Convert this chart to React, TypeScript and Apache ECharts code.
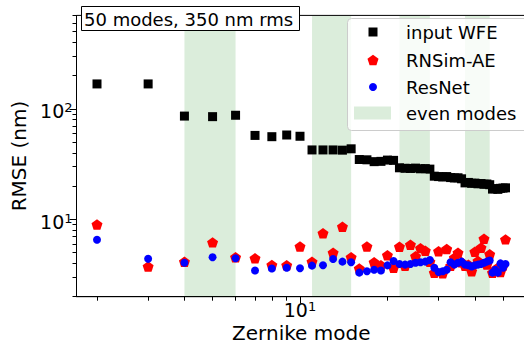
import React, { useEffect, useRef } from "react";
import * as echarts from "echarts";

// ---- data ----
const modes = [
  2, 3, 4, 5, 6, 7, 8, 9, 10, 11, 12, 13, 14, 15, 16, 17, 18, 19, 20, 21, 22, 23, 24, 25, 26,
  27, 28, 29, 30, 31, 32, 33, 34, 35, 36, 37, 38, 39, 40, 41, 42, 43, 44, 45, 46, 47, 48, 49, 50, 51,
];
const inputWFE = [
  168, 168, 86, 85, 87.5, 57.5, 56, 58, 56.5, 42.5, 42.5, 42.5, 42.3, 43.5, 34.8, 34.6, 33.3,
  33.5, 34.4, 34.2, 29.3, 29.0, 28.9, 29.1, 28.7, 28.8, 28.5, 24.6, 24.4, 24.2, 24.4, 23.9, 23.7,
  23.8, 23.3, 21.4, 21.6, 21.2, 21.3, 21.0, 21.1, 20.8, 20.9, 20.6, 18.8, 19.0, 18.7, 19.1, 19.2, 19.3,
];
const rnsimAE = [
  9.0, 3.75, 4.15, 6.2, 4.55, 4.45, 3.87, 3.85, 5.7, 4.15, 7.5, 5.0, 8.6, 4.55, 3.6, 5.7, 4.1,
  3.85, 4.75, 3.65, 5.65, 3.8, 5.9, 4.65, 5.5, 5.2, 4.15, 3.3, 5.15, 3.25, 5.4, 3.8, 4.5, 5.0,
  4.1, 3.8, 3.9, 3.4, 5.1, 4.2, 5.55, 6.7, 3.9, 4.85, 3.3, 3.5, 3.65, 3.35, 3.8, 6.6,
];
const resNet = [
  6.55, 4.4, 4.05, 4.55, 4.45, 3.45, 3.6, 3.65, 3.62, 3.82, 3.85, 4.38, 4.15, 4.1, 3.3, 3.4, 3.5,
  3.45, 3.84, 4.2, 3.95, 3.9, 3.95, 4.05, 4.1, 4.15, 4.3, 3.65, 3.35, 3.4, 3.5, 4.1, 3.9, 4.05,
  4.15, 3.9, 3.85, 3.75, 3.85, 3.9, 3.95, 4.05, 4.15, 4.25, 3.3, 3.5, 3.3, 4.0, 3.65, 3.95,
];
const evenModeBands = [
  [4, 6],
  [11, 15],
  [22, 28],
  [37, 45],
];
const xLimits = [1.7, 60];
const yLimits = [2, 700];
const xMajorTicks = [10];
const xMinorTicks = [2, 3, 4, 5, 6, 7, 8, 9, 20, 30, 40, 50];
const yMajorTicks = [10, 100];
const yMinorTicks = [
  2, 3, 4, 5, 6, 7, 8, 9, 20, 30, 40, 50, 60, 70, 80, 90, 200, 300, 400, 500, 600, 700,
];
const seriesNames = ["input WFE", "RNSim-AE", "ResNet", "even modes"];
const annotation = "50 modes, 350 nm rms";

// ---- styles ----
const FONT = "DejaVu Sans";
const BAND = "rgba(0,128,0,0.14)";
const PENTAGON = "path://M0,-50 L47.55,-15.45 L29.39,40.45 L-29.39,40.45 L-47.55,-15.45 Z";
const lg = (v: number) => Math.log10(v);

const rich = {
  b: { fontSize: 19, lineHeight: 20, fontFamily: FONT, color: "#000" },
  s: { fontSize: 13, lineHeight: 8, fontFamily: FONT, color: "#000", verticalAlign: "top" },
};
const powFmt = (v: number) => `{b|10}{s|${Math.round(v)}}`;

function pentagonPoints(cx: number, cy: number, r: number) {
  const pts: number[][] = [];
  for (let k = 0; k < 5; k++) {
    const a = ((-90 + 72 * k) * Math.PI) / 180;
    pts.push([cx + r * Math.cos(a), cy + r * Math.sin(a)]);
  }
  return pts;
}

export default function App() {
  const ref = useRef<HTMLDivElement>(null);
  useEffect(() => {
    if (!ref.current) return;
    const chart = echarts.init(ref.current, undefined, { renderer: "svg" });
    const tickLine = { color: "#000", width: 1 };
    const xMin = lg(xLimits[0]);
    const xMax = lg(xLimits[1]);
    const yMin = lg(yLimits[0]);
    const yMax = lg(yLimits[1]);

    const legendRows = [32, 60, 87, 113];
    const legendTextX = 406;
    const markerX = 373;

    const option: any = {
      animation: false,
      grid: {
        left: 76.5,
        right: -2,
        top: 15.4,
        bottom: 49.3,
        show: true,
        borderColor: "#000",
        borderWidth: 1,
        backgroundColor: "transparent",
        containLabel: false,
        outerBoundsMode: "none",
      },
      xAxis: [
        {
          type: "value",
          min: xMin,
          max: xMax,
          position: "bottom",
          name: "Zernike mode",
          nameLocation: "middle",
          nameGap: 26,
          nameMoveOverlap: false,
          nameTextStyle: { fontSize: 20, lineHeight: 20, color: "#000", fontFamily: FONT },
          axisLine: { show: true, onZero: false, lineStyle: tickLine },
          axisTick: { show: true, customValues: xMajorTicks.map(lg), length: 7, lineStyle: tickLine },
          axisLabel: {
            show: true,
            customValues: xMajorTicks.map(lg),
            margin: 3,
            formatter: powFmt,
            rich,
          },
          splitLine: { show: false },
        },
        {
          type: "value",
          min: xMin,
          max: xMax,
          position: "bottom",
          axisLine: { show: false, onZero: false },
          axisTick: { show: true, customValues: xMinorTicks.map(lg), length: 4, lineStyle: tickLine },
          axisLabel: { show: false },
          splitLine: { show: false },
        },
      ],
      yAxis: [
        {
          type: "value",
          min: yMin,
          max: yMax,
          position: "left",
          name: "RMSE (nm)",
          nameLocation: "middle",
          nameGap: 48,
          nameMoveOverlap: false,
          nameTextStyle: { fontSize: 20, color: "#000", fontFamily: FONT },
          axisLine: { show: true, onZero: false, lineStyle: tickLine },
          axisTick: { show: true, customValues: yMajorTicks.map(lg), length: 7, lineStyle: tickLine },
          axisLabel: {
            show: true,
            customValues: yMajorTicks.map(lg),
            margin: 4,
            formatter: powFmt,
            rich,
            padding: [5, 0, 0, 0],
          },
          splitLine: { show: false },
        },
        {
          type: "value",
          min: yMin,
          max: yMax,
          position: "left",
          axisLine: { show: false, onZero: false },
          axisTick: { show: true, customValues: yMinorTicks.map(lg), length: 4, lineStyle: tickLine },
          axisLabel: { show: false },
          splitLine: { show: false },
        },
      ],
      series: [
        {
          name: seriesNames[3],
          type: "custom",
          xAxisIndex: 0,
          yAxisIndex: 0,
          z: 1,
          encode: { x: [0, 1], y: 2 },
          data: evenModeBands.map(([a, b]) => [lg(a), lg(b), yMin]),
          renderItem: (params: any, api: any) => {
            const s = api.coord([api.value(0), api.value(2)]);
            const e = api.coord([api.value(1), api.value(2)]);
            const cs = params.coordSys;
            return {
              type: "rect",
              shape: { x: s[0], y: cs.y + 0.5, width: e[0] - s[0], height: cs.height - 1 },
              style: { fill: BAND },
            };
          },
        },
        {
          name: seriesNames[0],
          type: "scatter",
          xAxisIndex: 0,
          yAxisIndex: 0,
          z: 3,
          symbol: "rect",
          symbolSize: 9,
          itemStyle: { color: "#000000", opacity: 1 },
          data: modes.map((m, i) => [lg(m), lg(inputWFE[i])]),
        },
        {
          name: seriesNames[1],
          type: "scatter",
          xAxisIndex: 0,
          yAxisIndex: 0,
          z: 4,
          symbol: PENTAGON,
          symbolKeepAspect: true,
          symbolSize: 11,
          itemStyle: { color: "#ff0000", opacity: 1 },
          data: modes.map((m, i) => [lg(m), lg(rnsimAE[i])]),
        },
        {
          name: seriesNames[2],
          type: "scatter",
          xAxisIndex: 0,
          yAxisIndex: 0,
          z: 5,
          symbol: "circle",
          symbolSize: 8,
          itemStyle: { color: "#0000ff", opacity: 1 },
          data: modes.map((m, i) => [lg(m), lg(resNet[i])]),
        },
      ],
      graphic: [
        // legend
        {
          type: "rect",
          z: 100,
          shape: { x: 347.5, y: 18.5, width: 190, height: 112, r: 4 },
          style: { fill: "rgba(255,255,255,0.8)", stroke: "#cccccc", lineWidth: 1 },
        },
        {
          type: "rect",
          z: 101,
          shape: { x: markerX - 4.5, y: legendRows[0] - 4.5, width: 9, height: 9 },
          style: { fill: "#000000" },
        },
        {
          type: "polygon",
          z: 101,
          shape: { points: pentagonPoints(markerX, legendRows[1] + 0.5, 5.8) },
          style: { fill: "#ff0000" },
        },
        {
          type: "circle",
          z: 101,
          shape: { cx: markerX, cy: legendRows[2], r: 4 },
          style: { fill: "#0000ff" },
        },
        {
          type: "rect",
          z: 101,
          shape: { x: 354, y: legendRows[3] - 6.5, width: 37, height: 13 },
          style: { fill: BAND },
        },
        ...seriesNames.map((n, i) => ({
          type: "text",
          z: 101,
          x: legendTextX,
          y: legendRows[i],
          style: {
            text: n,
            fill: "#000",
            font: `18px '${FONT}'`,
            textVerticalAlign: "middle",
            verticalAlign: "middle",
          },
        })),
        // annotation box
        {
          type: "rect",
          z: 100,
          shape: { x: 81.5, y: 6.5, width: 218, height: 24 },
          style: { fill: "#ffffff", stroke: "#000000", lineWidth: 1 },
        },
        {
          type: "text",
          z: 101,
          x: 84,
          y: 19,
          style: {
            text: annotation,
            fill: "#000",
            font: `18px '${FONT}'`,
            textVerticalAlign: "middle",
            verticalAlign: "middle",
          },
        },
      ],
    };
    chart.setOption(option);
    return () => chart.dispose();
  }, []);
  return (
    <div
      ref={ref}
      style={{ position: "absolute", left: 0, top: 0, width: 524, height: 346, background: "#fff" }}
    />
  );
}
